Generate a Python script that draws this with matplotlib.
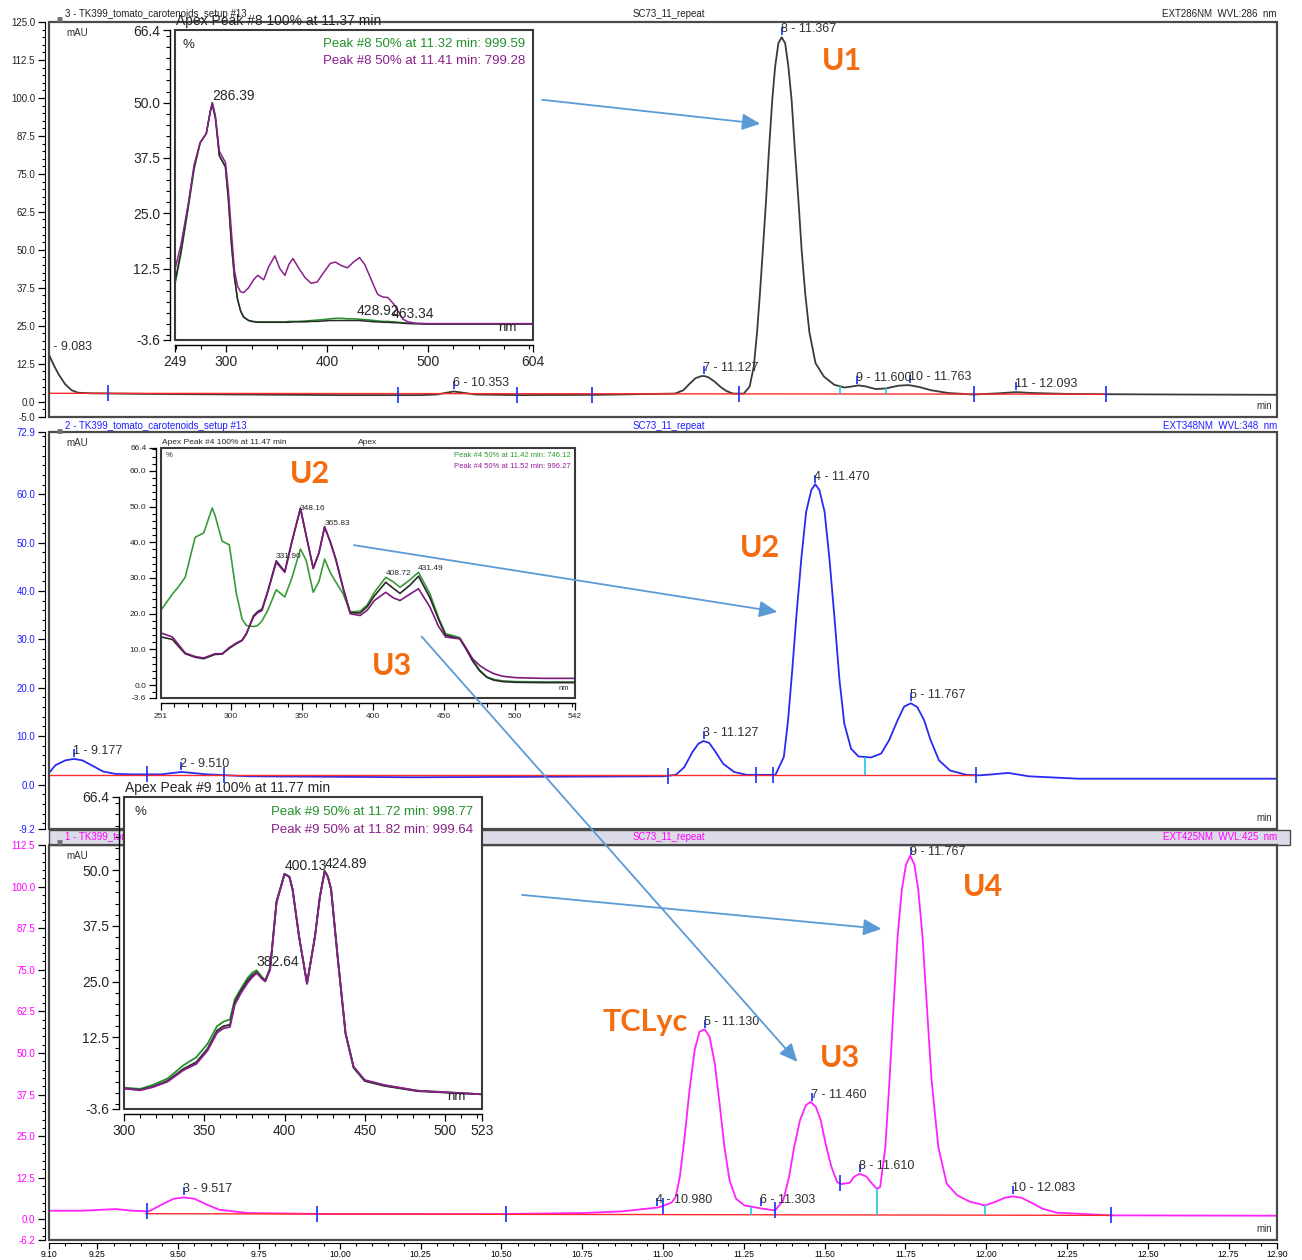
import matplotlib.pyplot as plt
import matplotlib.transforms as mtransforms
from matplotlib.patches import Rectangle, ConnectionPatch, ArrowStyle
from matplotlib.ticker import MultipleLocator
import numpy as np

plt.rcParams['font.family'] = ['Liberation Sans', 'DejaVu Sans']

W, H = 1302, 1260       # output size in pixels

# CHROMATOGRAMS (retention time in min, signal in mAU) -----------------------------

top_t = [9.10, 9.115, 9.13, 9.15, 9.17, 9.19, 9.23, 9.40, 9.70, 10.00,
         10.25, 10.30, 10.33, 10.353, 10.38, 10.42, 10.55, 10.80, 10.97, 11.037,
         11.063, 11.082, 11.101, 11.117, 11.127, 11.14, 11.159, 11.178, 11.197, 11.217,
         11.25, 11.268, 11.281, 11.291, 11.30, 11.309, 11.319, 11.328, 11.338, 11.347,
         11.357, 11.367, 11.378, 11.388, 11.398, 11.408, 11.419, 11.429, 11.44, 11.453,
         11.472, 11.498, 11.53, 11.562, 11.588, 11.604, 11.626, 11.658, 11.69, 11.728,
         11.76, 11.792, 11.83, 11.882, 11.959, 12.04, 12.093, 12.14, 12.25, 12.37,
         12.60, 12.90]
top_v = [15.5, 12.0, 9.0, 5.8, 3.8, 3.0, 2.8, 2.6, 2.4, 2.2,
         2.2, 2.4, 3.0, 3.4, 3.0, 2.4, 2.2, 2.3, 2.6, 2.7,
         3.8, 5.9, 7.8, 8.4, 8.5, 8.1, 6.7, 4.9, 3.5, 2.7,
         2.7, 5.0, 11.6, 22.9, 35.7, 50.0, 66.4, 83.0, 99.3, 110.3,
         118.0, 120.0, 118.0, 110.3, 99.3, 83.0, 66.4, 50.0, 35.7, 22.9,
         12.7, 8.3, 5.6, 4.7, 5.1, 5.4, 5.1, 4.2, 4.4, 5.3,
         5.5, 4.9, 3.8, 2.9, 2.4, 2.8, 3.2, 2.9, 2.6, 2.5,
         2.4, 2.3]
top_base_t = [9.10, 12.37]
top_base_v = [2.8, 2.5]
top_ids = [5, 6, 7, 8, 9, 10, 11]
top_rts = [9.083, 10.353, 11.127, 11.367, 11.600, 11.763, 12.093]
top_delims = [9.283, 10.181, 10.547, 10.78, 11.236, 11.961, 12.37]
top_splits = [11.547, 11.69]

mid_t = [9.10, 9.12, 9.151, 9.177, 9.203, 9.234, 9.267, 9.305, 9.357, 9.447,
         9.51, 9.588, 9.717, 10.23, 11.0, 11.04, 11.066, 11.091, 11.109, 11.125,
         11.143, 11.163, 11.186, 11.22, 11.258, 11.348, 11.374, 11.387, 11.40, 11.412,
         11.428, 11.443, 11.459, 11.471, 11.484, 11.50, 11.515, 11.531, 11.546, 11.561,
         11.582, 11.605, 11.644, 11.675, 11.70, 11.726, 11.746, 11.767, 11.787, 11.808,
         11.828, 11.854, 11.888, 11.939, 11.978, 12.02, 12.068, 12.132, 12.286, 12.90]
mid_v = [2.4, 4.0, 5.0, 5.3, 5.0, 3.9, 2.7, 2.2, 2.1, 2.1,
         2.6, 2.1, 1.7, 1.5, 1.7, 2.0, 3.6, 6.7, 8.4, 9.0,
         8.6, 6.7, 4.3, 2.6, 2.0, 2.0, 5.7, 13.3, 23.7, 34.2,
         46.7, 56.4, 60.9, 62.1, 60.9, 56.4, 46.7, 34.2, 21.7, 12.6,
         7.4, 5.8, 5.6, 6.4, 9.2, 13.3, 16.1, 16.8, 16.0, 13.3,
         9.2, 5.0, 2.9, 2.0, 1.9, 2.1, 2.4, 1.7, 1.2, 1.2]
mid_base_t = [9.10, 11.97]
mid_base_v = [1.9, 1.9]
mid_ids = [1, 2, 3, 4, 5]
mid_rts = [9.177, 9.510, 11.127, 11.470, 11.767]
mid_delims = [9.403, 9.64, 11.017, 11.289, 11.34, 11.97]
mid_splits = [11.626]

bot_t = [9.10, 9.204, 9.307, 9.358, 9.409, 9.448, 9.486, 9.517, 9.55, 9.589,
         9.627, 9.679, 9.717, 9.974, 10.487, 10.75, 10.872, 10.95, 10.987, 11.026,
         11.039, 11.052, 11.067, 11.082, 11.098, 11.113, 11.129, 11.144, 11.16, 11.175,
         11.19, 11.206, 11.226, 11.252, 11.308, 11.347, 11.372, 11.39, 11.406, 11.424,
         11.442, 11.457, 11.473, 11.488, 11.503, 11.521, 11.539, 11.552, 11.578, 11.59,
         11.608, 11.629, 11.647, 11.662, 11.672, 11.688, 11.701, 11.714, 11.726, 11.739,
         11.752, 11.765, 11.778, 11.79, 11.803, 11.816, 11.831, 11.852, 11.878, 11.911,
         11.95, 11.996, 12.027, 12.058, 12.083, 12.109, 12.142, 12.175, 12.219, 12.283,
         12.386, 12.90]
bot_v = [2.6, 2.6, 3.1, 2.6, 2.4, 4.4, 6.2, 6.6, 6.2, 4.4,
         2.9, 2.3, 1.9, 1.6, 1.6, 1.9, 2.4, 3.2, 3.6, 5.0,
         6.7, 12.7, 24.8, 38.8, 50.9, 56.4, 57.1, 54.9, 47.0, 34.9,
         21.8, 11.7, 6.2, 4.2, 3.2, 2.7, 5.7, 12.7, 21.8, 29.8,
         34.3, 35.3, 33.8, 29.8, 22.8, 15.8, 11.2, 10.6, 11.0, 12.7,
         13.7, 12.9, 10.7, 9.2, 9.7, 21.7, 41.9, 64.9, 85.0, 99.0,
         106.6, 109.3, 106.6, 99.0, 85.0, 64.9, 41.9, 21.7, 10.7, 7.2,
         5.3, 4.2, 5.2, 6.5, 6.9, 6.5, 4.9, 3.2, 2.0, 1.7,
         1.2, 1.1]
bot_base_t = [9.40, 12.39]
bot_base_v = [1.7, 1.2]
bot_ids = [3, 4, 5, 6, 7, 8, 9, 10]
bot_rts = [9.517, 10.980, 11.130, 11.303, 11.460, 11.610, 11.767, 12.083]
bot_delims = [9.404, 9.928, 10.513, 11.0, 11.347, 11.547, 12.386]
bot_splits = [11.272, 11.662, 11.996]

time_ticks = [9.10, 9.25, 9.50, 9.75, 10.00, 10.25, 10.50, 10.75, 11.00,
              11.25, 11.50, 11.75, 12.00, 12.25, 12.50, 12.75, 12.90]

# UV-VIS SPECTRA (wavelength in nm, relative absorbance in %) ----------------------

spec8_nm = [249, 255, 262, 268, 274, 280, 284, 286, 289, 293,
            299, 302, 305, 308, 311, 314, 317, 322, 327, 331,
            337, 342, 348, 353, 358, 362, 366, 372, 378, 384,
            390, 396, 403, 408, 414, 420, 426, 432, 437, 442,
            447, 450, 455, 460, 466, 470, 475, 480, 487, 500,
            530, 604]
spec8_green = [9, 16, 26, 35, 41, 43, 48, 50, 47, 38,
               35.5, 28, 18, 10.5, 5.6, 3.0, 1.6, 0.8, 0.6, 0.5,
               0.5, 0.5, 0.5, 0.5, 0.5, 0.6, 0.6, 0.6, 0.7, 0.8,
               0.9, 1.0, 1.2, 1.3, 1.3, 1.2, 1.2, 1.1, 1.0, 0.9,
               0.8, 0.7, 0.6, 0.6, 0.5, 0.4, 0.3, 0.2, 0.1, 0.0,
               0.0, 0.0]
spec8_black = [9.5, 16.5, 26.5, 35.5, 41, 43, 48, 49.5, 46.5, 38,
               35.5, 28, 18, 10.5, 5.6, 3.0, 1.6, 0.8, 0.5, 0.4,
               0.4, 0.4, 0.4, 0.4, 0.4, 0.4, 0.5, 0.5, 0.5, 0.6,
               0.6, 0.7, 0.8, 0.8, 0.8, 0.8, 0.8, 0.8, 0.7, 0.6,
               0.5, 0.5, 0.4, 0.4, 0.3, 0.3, 0.2, 0.1, 0.1, 0.0,
               0.0, 0.0]
spec8_purple = [12.4, 18, 27, 36, 41, 43, 48, 50, 47, 39,
                36.5, 30, 20.6, 12, 8.6, 7.3, 7.1, 8.2, 10, 11.0,
                10, 13, 15.4, 12.5, 11, 13.5, 14.8, 12.5, 10.5, 9.2,
                9.5, 11.5, 13.7, 14, 13.2, 12.7, 14, 15, 13.5, 10.9,
                8.2, 6.7, 6.1, 6.0, 4.5, 3.0, 1.1, 0.5, 0.2, 0.1,
                0.1, 0.1]
spec8_peaks = [286.39, 428.92, 463.34]

spec4_nm = [251, 259, 263, 268, 275, 281, 287, 289, 294, 299,
            304, 308, 311, 316, 319, 322, 326, 332, 338, 343,
            349, 353, 358, 362, 366, 370, 374, 379, 384, 391,
            396, 401, 409, 414, 419, 426, 432, 440, 446, 451,
            456, 461, 466, 470, 475, 480, 485, 491, 500, 520,
            542]
spec4_green = [21, 25.5, 27.4, 30.2, 41.4, 42.6, 49.6, 47.5, 40.3, 39.3,
               25.6, 18.5, 16.7, 16.4, 16.7, 18, 20.9, 26.7, 24.7, 30,
               38.1, 35, 26, 29, 35.3, 31.5, 28.8, 25.6, 20.5, 20.7,
               22.5, 26, 30.2, 29, 27.4, 29.5, 31.6, 25.6, 19, 14.4,
               13.9, 13.3, 10, 7, 4.2, 2.3, 1.6, 1.2, 1.0, 0.9,
               0.9]
spec4_black = [13.5, 12.8, 11, 8.8, 7.8, 7.4, 8.3, 8.6, 8.7, 10.3,
               11.6, 12.5, 14.3, 19.4, 20.6, 21.3, 26.3, 34.8, 31.8, 40.3,
               49.4, 42, 32.8, 37, 44.2, 40.2, 35.2, 27.3, 20.3, 20.2,
               22, 25, 28.8, 27.2, 25.7, 28, 30.5, 24.5, 18.5, 14,
               13.5, 13, 9.7, 6.8, 4, 2.2, 1.4, 1.0, 0.8, 0.7,
               0.7]
spec4_purple = [14.6, 13.5, 11.5, 9.0, 8.0, 7.6, 8.5, 8.8, 8.8, 10.5,
                11.8, 12.6, 14.5, 19.1, 20.3, 20.9, 26, 34.4, 31.6, 40,
                49.6, 42, 32.6, 37, 44.4, 40, 34.9, 27, 20, 19.5,
                21, 23.7, 26, 24.5, 23.7, 25.5, 27, 21.9, 16.5, 13.5,
                13.2, 13, 10, 7.4, 5.5, 4.2, 3.2, 2.5, 2.1, 1.9,
                1.9]
spec4_peaks = [331.90, 348.16, 365.83, 408.72, 431.49]

spec9_nm = [300, 310, 318, 327, 337, 345, 352, 358, 362, 366,
            369, 373, 377, 380, 382.6, 386, 388, 391, 395, 400,
            403, 405, 409, 414, 419, 422, 425, 427, 429, 433,
            438, 443, 450, 462, 483, 523]
spec9_green = [1.2, 0.9, 1.8, 3.2, 6.2, 8.0, 11.0, 15.0, 16.0, 16.5,
               21, 23.5, 25.8, 27, 27.5, 26, 25.3, 28, 43, 49.2,
               48.5, 45.7, 35.2, 24.5, 35.2, 44, 49.8, 48.5, 45.7, 30.7,
               13.2, 5.6, 2.7, 1.7, 0.5, -0.3]
spec9_black = [1.0, 0.7, 1.4, 2.7, 5.4, 6.9, 9.9, 14, 15, 15.3,
               20.3, 23, 25.2, 26.4, 27.1, 25.7, 25.1, 27.8, 42.8, 49.1,
               48.5, 45.7, 35.2, 24.6, 35.2, 44, 49.8, 48.5, 45.7, 30.9,
               13.5, 5.8, 2.7, 1.6, 0.4, -0.3]
spec9_purple = [1.0, 0.6, 1.3, 2.5, 5.1, 6.5, 9.5, 13.5, 14.5, 14.8,
                19.8, 22.5, 24.7, 26, 26.9, 25.6, 25, 27.7, 42.7, 49.1,
                48.5, 45.7, 35.2, 24.5, 35.2, 44, 49.8, 48.5, 45.7, 30.7,
                13.4, 5.9, 2.9, 1.8, 0.5, -0.3]
spec9_peaks = [382.64, 400.13, 424.89]

GREEN, PURPLE, BLACK = '#24902a', '#8a1f8a', '#2a2a2a'
ORANGE, ARROW = '#f36c10', '#5b9bd5'

# FIGURE -------------------------------------------------------------------------

fig = plt.figure(figsize=(W / 100, H / 100), dpi=100)
px = mtransforms.Affine2D().scale(1 / W, -1 / H).translate(0, 1) + fig.transFigure


def px_rect(l, t, r, b):
    return [l / W, 1 - b / H, (r - l) / W, (b - t) / H]


def chromatogram(rect, t, v, base_t, base_v, ylim, yticks, yminor, color, lcolor,
                 ids, rts, delims, splits, header, wvl, hdr_dy):
    ax = fig.add_axes(px_rect(*rect))
    ax.set_xlim(9.10, 12.90)
    ax.set_ylim(*ylim)
    ax.plot(t, v, color=color, lw=1.3, zorder=3)
    ax.plot(base_t, base_v, color='#ff2a2a', lw=1.0, zorder=4)

    for s in ('top', 'right', 'bottom'):
        ax.spines[s].set_visible(False)
    ax.spines['left'].set_position(('outward', 3))
    ax.add_patch(Rectangle((0, 0), 1, 1, transform=ax.transAxes, fill=False,
                           ec='#4a4a4a', lw=1.6, clip_on=False, zorder=6))
    ax.set_yticks(yticks, [f'{y:.1f}' for y in yticks])
    ax.yaxis.set_minor_locator(MultipleLocator(yminor))
    ax.tick_params(axis='y', which='major', length=5, width=0.9, labelsize=7,
                   labelcolor=lcolor, pad=2)
    ax.tick_params(axis='y', which='minor', length=2.5, width=0.8)
    ax.set_xticks([])

    # peak labels (kept just inside the frame) and integration marks
    unit_px = (rect[3] - rect[1]) / (ylim[1] - ylim[0])
    lift = mtransforms.offset_copy(ax.transData, fig=fig, x=-1, y=2, units='dots')
    tick_up = mtransforms.offset_copy(ax.transData, fig=fig, y=6, units='dots')
    for pid, rt in zip(ids, rts):
        y = np.interp(rt, t, v)
        ax.plot(rt, y, marker='|', ms=6, mew=1.2, color='#1430ff', transform=tick_up, zorder=5)
        ax.text(rt, min(y, ylim[1] - 15 / unit_px), f'{pid} - {rt:.3f}', transform=lift,
                ha='left', va='bottom', fontsize=9, color='#303030', clip_on=True, zorder=7)
    for d in delims:
        ax.plot(d, np.interp(d, t, v), marker='|', ms=11, mew=1.2, color='#1430ff', zorder=5)
    for sp in splits:
        ax.vlines(sp, np.interp(sp, base_t, base_v), np.interp(sp, t, v),
                  color='#22c4e4', lw=1.2, zorder=5)

    # header line and unit captions
    hdr = mtransforms.offset_copy(ax.transAxes, fig=fig, y=hdr_dy, units='dots')
    icon = mtransforms.offset_copy(ax.transAxes, fig=fig, x=8, y=hdr_dy - 5, units='dots')
    ax.add_patch(Rectangle((0, 1), 5 / 1228, 0.001, transform=icon, fc='#b0b0b8', ec='#707078',
                           lw=3.5, clip_on=False, zorder=6))
    ax.text(0.013, 1, header, transform=hdr, ha='left', va='center', fontsize=7,
            color=lcolor, clip_on=False)
    ax.text(0.505, 1, 'SC73_11_repeat', transform=hdr, ha='center', va='center',
            fontsize=7, color=lcolor, clip_on=False)
    ax.text(1.0, 1, f'EXT{wvl}NM  WVL:{wvl}  nm', transform=hdr, ha='right', va='center',
            fontsize=7, color=lcolor, clip_on=False)
    ax.text(0, 1, 'mAU', transform=mtransforms.offset_copy(ax.transAxes, fig=fig, x=17, y=-11, units='dots'),
            ha='left', va='center', fontsize=7, color='#303030')
    ax.text(1, 0, 'min', transform=mtransforms.offset_copy(ax.transAxes, fig=fig, x=-5, y=11, units='dots'),
            ha='right', va='center', fontsize=7, color='#303030')
    return ax


def spectrum_inset(rect, nm, curves, xlim, xticks, xminor, yticks, yminor, fs, lw,
                   title, legend, peaks, label_curve, pct_xy, nm_xy, leg_xy, leg_dy):
    ax = fig.add_axes(px_rect(*rect))
    ax.set_facecolor('white')
    ax.set_xlim(*xlim)
    ax.set_ylim(-3.6, 66.4)
    for values, color in curves:
        ax.plot(nm, values, color=color, lw=lw)

    for s in ('top', 'right'):
        ax.spines[s].set_visible(False)
    for s in ('left', 'bottom'):
        ax.spines[s].set_position(('outward', 3.5))
        ax.spines[s].set_linewidth(1.0)
    ax.add_patch(Rectangle((0, 0), 1, 1, transform=ax.transAxes, fill=False,
                           ec='#3a3a3a', lw=1.5, clip_on=False, zorder=6))
    ax.set_xticks(xticks, [f'{x:.0f}' for x in xticks])
    ax.set_yticks(yticks, [f'{y:.1f}' for y in yticks])
    ax.xaxis.set_minor_locator(MultipleLocator(xminor))
    ax.yaxis.set_minor_locator(MultipleLocator(yminor))
    ax.tick_params(which='major', length=5, width=0.9, labelsize=fs,
                   labelcolor='#262626', pad=2)
    ax.tick_params(which='minor', length=3, width=0.8)

    ax.text(0, 1, title[0], transform=mtransforms.offset_copy(ax.transAxes, fig=fig, x=1, y=2, units='dots'),
            ha='left', va='bottom', fontsize=fs, color='#262626')
    if len(title) > 1:
        ax.text(0.475, 1, title[1], transform=mtransforms.offset_copy(ax.transAxes, fig=fig, y=2, units='dots'),
                ha='left', va='bottom', fontsize=fs, color='#262626')
    ax.text(*pct_xy, '%', transform=ax.transAxes, ha='left', va='center', fontsize=fs - 0.5, color='#262626')
    ax.text(*nm_xy, 'nm', transform=ax.transAxes, ha='right', va='center', fontsize=fs - 0.5, color='#262626')
    for k, (txt, color) in enumerate(legend):
        ax.text(leg_xy[0], leg_xy[1] - k * leg_dy, txt, transform=ax.transAxes,
                ha='right', va='center', fontsize=fs - 0.5, color=color)

    lift = mtransforms.offset_copy(ax.transData, fig=fig, x=0, y=1, units='dots')
    for p in peaks:
        ax.text(p, np.interp(p, nm, label_curve), f'{p:.2f}', transform=lift,
                ha='left', va='bottom', fontsize=fs, color='#262626', zorder=7)
    return ax


ax_top = chromatogram((49, 22, 1277, 417), top_t, top_v, top_base_t, top_base_v,
                      (-5, 125), [-5, 0, 12.5, 25, 37.5, 50, 62.5, 75, 87.5, 100, 112.5, 125],
                      2.5, '#3a3a3a', '#222222', top_ids, top_rts, top_delims, top_splits,
                      '3 - TK399_tomato_carotenoids_setup #13', 286, 8)
ax_mid = chromatogram((49, 432, 1277, 829), mid_t, mid_v, mid_base_t, mid_base_v,
                      (-9.2, 72.9), [-9.2, 0, 10, 20, 30, 40, 50, 60, 72.9],
                      2, '#2a2af2', '#1f1fff', mid_ids, mid_rts, mid_delims, mid_splits,
                      '2 - TK399_tomato_carotenoids_setup #13', 348, 6)
ax_bot = chromatogram((49, 845, 1277, 1240), bot_t, bot_v, bot_base_t, bot_base_v,
                      (-6.2, 112.5), [-6.2, 0, 12.5, 25, 37.5, 50, 62.5, 75, 87.5, 100, 112.5],
                      2.5, '#ff22ff', '#ff00ff', bot_ids, bot_rts, bot_delims, bot_splits,
                      '1 - TK399_tomato_carotenoids_setup #13', 425, 8)

# selected-trace header bar of the lowest panel
ax_bot.add_patch(Rectangle((49, 830), 1241, 15, transform=px, fc='#dcdce8', ec='#4a4a4a',
                           lw=1.0, clip_on=False, zorder=1))

# time axis of the lowest panel
ax_bot.spines['bottom'].set_visible(True)
ax_bot.spines['bottom'].set_position(('outward', 2.5))
ax_bot.set_xticks(time_ticks, [f'{x:.2f}' for x in time_ticks])
ax_bot.xaxis.set_minor_locator(MultipleLocator(0.05))
ax_bot.tick_params(axis='x', which='major', length=4, width=0.9, labelsize=6.2, pad=1)
ax_bot.tick_params(axis='x', which='minor', length=2.5, width=0.8)

# spectra insets
in_top = spectrum_inset((175, 30, 533, 340), spec8_nm,
                        [(spec8_green, GREEN), (spec8_black, BLACK), (spec8_purple, PURPLE)],
                        (249, 604), [249, 300, 400, 500, 604], 25,
                        [-3.6, 12.5, 25.0, 37.5, 50.0, 66.4], 2.5, 10, 1.1,
                        ['Apex Peak #8 100% at 11.37 min'],
                        [('Peak #8 50% at 11.32 min: 999.59', GREEN),
                         ('Peak #8 50% at 11.41 min: 799.28', PURPLE)],
                        spec8_peaks, spec8_green, (0.022, 0.952), (0.955, 0.04), (0.978, 0.955), 0.055)

in_mid = spectrum_inset((161, 448, 575, 698), spec4_nm,
                        [(spec4_green, '#3a9a3a'), (spec4_black, BLACK), (spec4_purple, '#7a1a7a')],
                        (251, 542), [251, 300, 350, 400, 450, 500, 542], 10,
                        [-3.6, 0, 10, 20, 30, 40, 50, 60, 66.4], 2, 6, 1.2,
                        ['Apex Peak #4 100% at 11.47 min', 'Apex'],
                        [('Peak #4 50% at 11.42 min: 746.12', '#2c9a2c'),
                         ('Peak #4 50% at 11.52 min: 996.27', '#9a1a9a')],
                        spec4_peaks, np.maximum.reduce([spec4_green, spec4_black, spec4_purple]),
                        (0.012, 0.972), (0.985, 0.036), (0.99, 0.972), 0.045)

in_bot = spectrum_inset((124, 797, 482, 1109), spec9_nm,
                        [(spec9_green, GREEN), (spec9_black, BLACK), (spec9_purple, PURPLE)],
                        (300, 523), [300, 350, 400, 450, 500, 523], 10,
                        [-3.6, 12.5, 25.0, 37.5, 50.0, 66.4], 2.5, 10, 1.3,
                        ['Apex Peak #9 100% at 11.77 min'],
                        [('Peak #9 50% at 11.72 min: 998.77', GREEN),
                         ('Peak #9 50% at 11.82 min: 999.64', PURPLE)],
                        spec9_peaks, np.maximum.reduce([spec9_green, spec9_black, spec9_purple]),
                        (0.03, 0.952), (0.955, 0.04), (0.975, 0.952), 0.058)

# orange compound names
tag = dict(color=ORANGE, fontsize=22, fontweight='bold', family=['Lato', 'DejaVu Sans'],
           ha='center', va='baseline', zorder=8)
ax_top.text(11.555, 109.2, 'U1', **tag)
ax_mid.text(11.301, 47.0, 'U2', **tag)
in_mid.text(355.7, 56.6, 'U2', **tag)
in_mid.text(413.3, 2.8, 'U3', **tag)
ax_bot.text(11.989, 97.2, 'U4', **tag)
ax_bot.text(11.549, 45.9, 'U3', **tag)
ax_bot.text(10.945, 56.7, 'TCLyc', **tag)

# arrows linking spectra to peaks
head = ArrowStyle('-|>', head_length=11, head_width=5)
links = [(ax_top, (10.626, 99.4), ax_top, (11.301, 91.5)),
         (in_mid, (386.6, 39.2), ax_mid, (11.354, 35.7)),
         (in_mid, (434.2, 13.6), ax_bot, (11.416, 47.3)),
         (ax_bot, (10.564, 97.5), ax_bot, (11.676, 87.3))]
for a, xa, b, xb in links:
    con = ConnectionPatch(xyA=xa, coordsA='data', axesA=a, xyB=xb, coordsB='data', axesB=b,
                          arrowstyle=head, mutation_scale=1, color=ARROW, lw=1.3,
                          shrinkA=0, shrinkB=0, zorder=10)
    fig.add_artist(con)

fig.savefig('out.png', dpi=100, facecolor='white')
